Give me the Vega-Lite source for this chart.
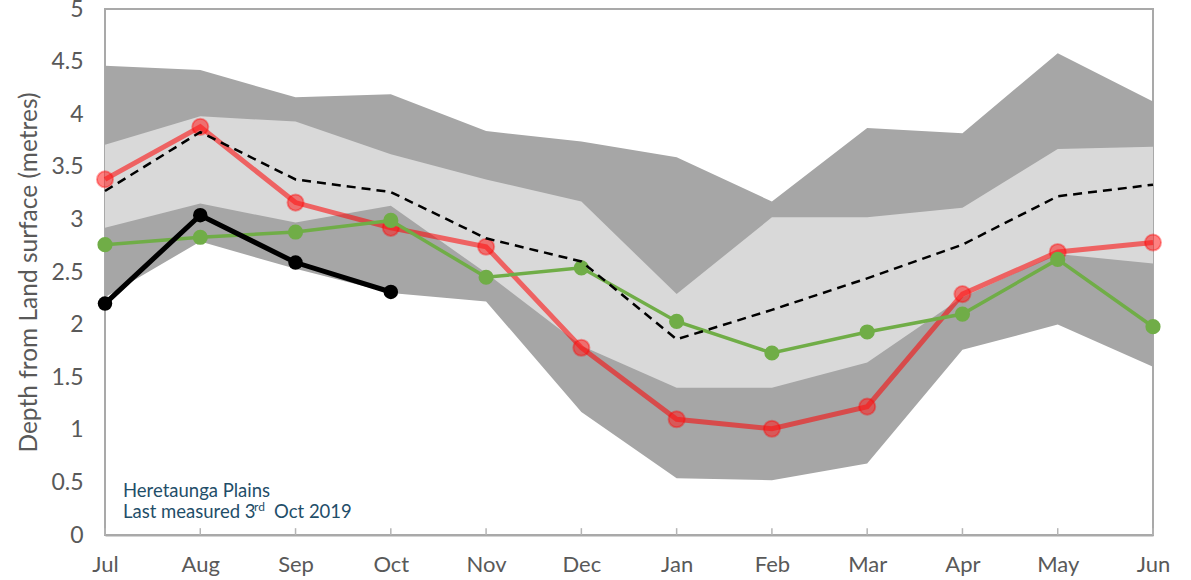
{
  "$schema": "https://vega.github.io/schema/vega-lite/v6.json",
  "width": 1048,
  "height": 526,
  "autosize": {"type": "none"},
  "padding": {"left": 105, "top": 9, "right": 38, "bottom": 45},
  "background": "white",
  "config": {
    "font": "Lato",
    "view": {"stroke": "#a9a9a9", "strokeWidth": 2}
  },
  "data": {
    "values": [
      {"i": 0, "month": "Jul", "max": 4.46, "min": 2.26, "phigh": 3.71, "plow": 2.92, "median": 3.27, "red": 3.38, "green": 2.76, "current": 2.20},
      {"i": 1, "month": "Aug", "max": 4.42, "min": 2.79, "phigh": 3.98, "plow": 3.15, "median": 3.83, "red": 3.88, "green": 2.83, "current": 3.04},
      {"i": 2, "month": "Sep", "max": 4.16, "min": 2.53, "phigh": 3.93, "plow": 2.97, "median": 3.38, "red": 3.16, "green": 2.88, "current": 2.59},
      {"i": 3, "month": "Oct", "max": 4.19, "min": 2.30, "phigh": 3.62, "plow": 3.13, "median": 3.26, "red": 2.92, "green": 2.99, "current": 2.31},
      {"i": 4, "month": "Nov", "max": 3.84, "min": 2.22, "phigh": 3.38, "plow": 2.49, "median": 2.82, "red": 2.74, "green": 2.45, "current": null},
      {"i": 5, "month": "Dec", "max": 3.74, "min": 1.17, "phigh": 3.17, "plow": 1.80, "median": 2.60, "red": 1.78, "green": 2.54, "current": null},
      {"i": 6, "month": "Jan", "max": 3.59, "min": 0.54, "phigh": 2.29, "plow": 1.40, "median": 1.86, "red": 1.10, "green": 2.03, "current": null},
      {"i": 7, "month": "Feb", "max": 3.17, "min": 0.52, "phigh": 3.02, "plow": 1.40, "median": 2.14, "red": 1.01, "green": 1.73, "current": null},
      {"i": 8, "month": "Mar", "max": 3.87, "min": 0.68, "phigh": 3.02, "plow": 1.64, "median": 2.44, "red": 1.22, "green": 1.93, "current": null},
      {"i": 9, "month": "Apr", "max": 3.82, "min": 1.76, "phigh": 3.11, "plow": 2.26, "median": 2.76, "red": 2.29, "green": 2.10, "current": null},
      {"i": 10, "month": "May", "max": 4.58, "min": 2.00, "phigh": 3.67, "plow": 2.67, "median": 3.22, "red": 2.69, "green": 2.62, "current": null},
      {"i": 11, "month": "Jun", "max": 4.12, "min": 1.60, "phigh": 3.69, "plow": 2.58, "median": 3.33, "red": 2.78, "green": 1.98, "current": null}
    ]
  },
  "layer": [
    {
      "mark": {"type": "area", "color": "#a6a6a6", "opacity": 1},
      "encoding": {
        "x": {
          "field": "i",
          "type": "quantitative",
          "scale": {"domain": [0, 11], "nice": false, "zero": false},
          "axis": {
            "title": null,
            "values": [0, 1, 2, 3, 4, 5, 6, 7, 8, 9, 10, 11],
            "labelExpr": "['Jul','Aug','Sep','Oct','Nov','Dec','Jan','Feb','Mar','Apr','May','Jun'][datum.value]",
            "labelFontSize": 22,
            "labelFontWeight": 400,
            "labelColor": "#595959",
            "labelPadding": 19,
            "labelFlush": false,
            "labelOverlap": false,
            "grid": false,
            "domainColor": "#a9a9a9",
            "domainWidth": 2,
            "ticks": false
          }
        },
        "y": {
          "field": "min",
          "type": "quantitative",
          "scale": {"domain": [0, 5], "nice": false},
          "axis": {
            "title": "Depth from Land surface (metres)",
            "titleFontSize": 24.5,
            "titleFontWeight": 400,
            "titleColor": "#595959",
            "titlePadding": 9,
            "values": [0, 0.5, 1, 1.5, 2, 2.5, 3, 3.5, 4, 4.5, 5],
            "format": "~g",
            "labelFontSize": 23,
            "labelFontWeight": 400,
            "labelColor": "#595959",
            "labelPadding": 22,
            "ticks": false,
            "domain": false,
            "grid": false
          }
        },
        "y2": {"field": "max"}
      }
    },
    {
      "mark": {"type": "area", "color": "#d9d9d9", "opacity": 1},
      "encoding": {
        "x": {"field": "i", "type": "quantitative"},
        "y": {"field": "plow", "type": "quantitative"},
        "y2": {"field": "phigh"}
      }
    },
    {
      "mark": {"type": "rule", "color": "#b5b5b5", "strokeWidth": 1.5},
      "encoding": {
        "x": {"field": "i", "type": "quantitative"},
        "y": {"datum": 0},
        "y2": {"datum": 0.065}
      }
    },
    {
      "mark": {"type": "line", "color": "#ff0000", "opacity": 0.55, "strokeWidth": 5},
      "encoding": {"x": {"field": "i", "type": "quantitative"}, "y": {"field": "red", "type": "quantitative"}}
    },
    {
      "mark": {"type": "point", "filled": true, "color": "#ff1a1a", "fillOpacity": 0.55, "stroke": "#ff0000", "strokeOpacity": 0.35, "strokeWidth": 2, "size": 260},
      "encoding": {"x": {"field": "i", "type": "quantitative"}, "y": {"field": "red", "type": "quantitative"}}
    },
    {
      "mark": {"type": "line", "color": "#70ad47", "strokeWidth": 3.5},
      "encoding": {"x": {"field": "i", "type": "quantitative"}, "y": {"field": "green", "type": "quantitative"}}
    },
    {
      "mark": {"type": "point", "filled": true, "color": "#70ad47", "opacity": 1, "size": 230},
      "encoding": {"x": {"field": "i", "type": "quantitative"}, "y": {"field": "green", "type": "quantitative"}}
    },
    {
      "mark": {"type": "line", "color": "#000000", "strokeWidth": 2.5, "strokeDash": [9, 6]},
      "encoding": {"x": {"field": "i", "type": "quantitative"}, "y": {"field": "median", "type": "quantitative"}}
    },
    {
      "mark": {"type": "line", "color": "#000000", "strokeWidth": 5},
      "encoding": {"x": {"field": "i", "type": "quantitative"}, "y": {"field": "current", "type": "quantitative"}}
    },
    {
      "mark": {"type": "point", "filled": true, "color": "#000000", "opacity": 1, "size": 210},
      "encoding": {"x": {"field": "i", "type": "quantitative"}, "y": {"field": "current", "type": "quantitative"}}
    },
    {
      "data": {"values": [{"label": "Heretaunga Plains"}]},
      "mark": {"type": "text", "align": "left", "baseline": "alphabetic", "dx": 18, "fontSize": 18.5, "fontWeight": 400, "color": "#1f4e69"},
      "encoding": {"x": {"datum": 0}, "y": {"datum": 0.36}, "text": {"field": "label"}}
    },
    {
      "data": {"values": [{"label": "Last measured 3"}]},
      "mark": {"type": "text", "align": "left", "baseline": "alphabetic", "dx": 18, "fontSize": 18.5, "fontWeight": 400, "color": "#1f4e69"},
      "encoding": {"x": {"datum": 0}, "y": {"datum": 0.16}, "text": {"field": "label"}}
    },
    {
      "data": {"values": [{"label": "rd"}]},
      "mark": {"type": "text", "align": "left", "baseline": "alphabetic", "dx": 149, "dy": -7, "fontSize": 12, "fontWeight": 400, "color": "#1f4e69"},
      "encoding": {"x": {"datum": 0}, "y": {"datum": 0.16}, "text": {"field": "label"}}
    },
    {
      "data": {"values": [{"label": "Oct 2019"}]},
      "mark": {"type": "text", "align": "left", "baseline": "alphabetic", "dx": 169, "fontSize": 18.5, "fontWeight": 400, "color": "#1f4e69"},
      "encoding": {"x": {"datum": 0}, "y": {"datum": 0.16}, "text": {"field": "label"}}
    }
  ]
}
